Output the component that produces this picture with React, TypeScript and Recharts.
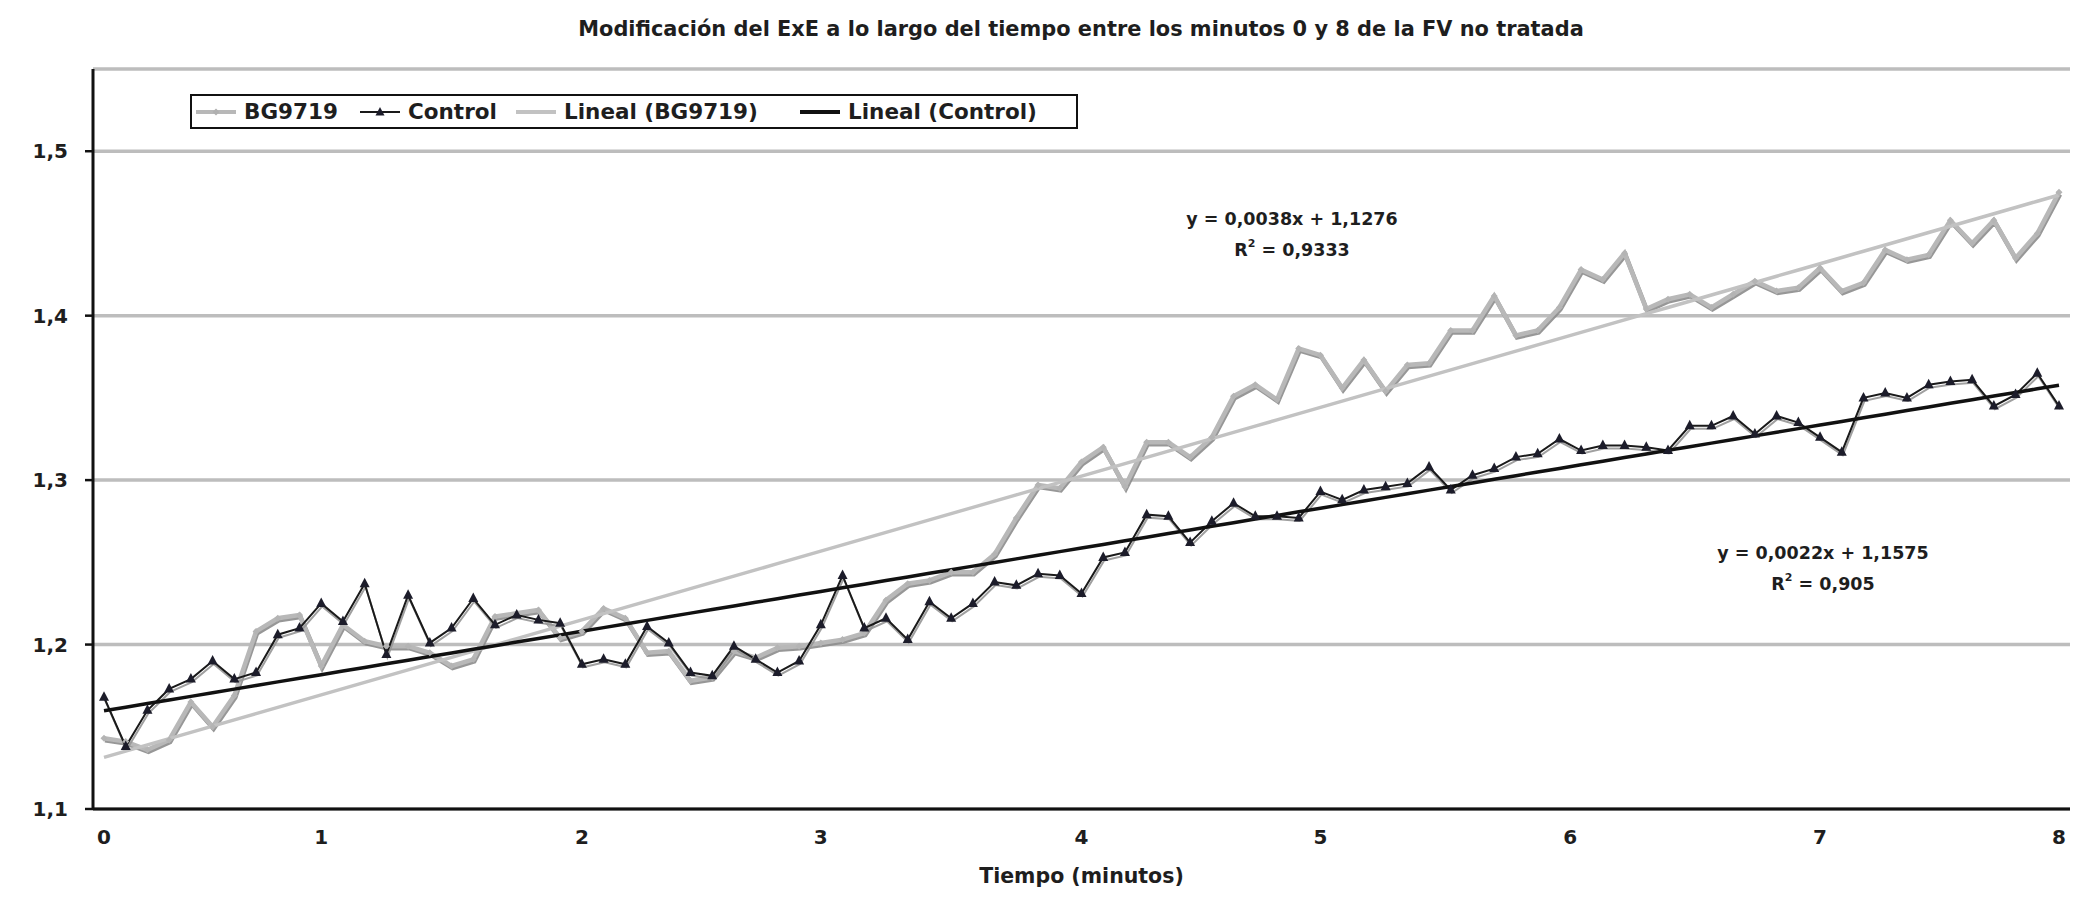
import React from 'react';
import { LineChart, Line, XAxis, YAxis, CartesianGrid, Label } from 'recharts';

// 91 samples
const BG9719 = [
  1.143, 1.141, 1.136, 1.142, 1.165, 1.150, 1.169, 1.208, 1.216, 1.218,
  1.187, 1.212, 1.202, 1.199, 1.199, 1.195, 1.187, 1.191, 1.217, 1.219,
  1.221, 1.204, 1.208, 1.222, 1.216, 1.195, 1.196, 1.178, 1.180, 1.196,
  1.192, 1.198, 1.199, 1.201, 1.203, 1.207, 1.227, 1.237, 1.239, 1.244,
  1.244, 1.255, 1.277, 1.297, 1.295, 1.311, 1.320, 1.296, 1.323, 1.323,
  1.314, 1.326, 1.351, 1.358, 1.349, 1.380, 1.376, 1.356, 1.373, 1.354,
  1.370, 1.371, 1.391, 1.391, 1.412, 1.388, 1.391, 1.405, 1.428, 1.422,
  1.438, 1.404, 1.410, 1.413, 1.405, 1.413, 1.421, 1.415, 1.417, 1.429,
  1.415, 1.420, 1.440, 1.434, 1.437, 1.458, 1.444, 1.458, 1.435, 1.450,
  1.475,
];

const CONTROL = [
  1.168, 1.138, 1.160, 1.173, 1.179, 1.190, 1.179, 1.183, 1.206, 1.210,
  1.225, 1.214, 1.237, 1.194, 1.230, 1.201, 1.210, 1.228, 1.212, 1.218,
  1.215, 1.213, 1.188, 1.191, 1.188, 1.211, 1.201, 1.183, 1.181, 1.199,
  1.191, 1.183, 1.190, 1.212, 1.242, 1.210, 1.216, 1.203, 1.226, 1.216,
  1.225, 1.238, 1.236, 1.243, 1.242, 1.231, 1.253, 1.256, 1.279, 1.278,
  1.262, 1.275, 1.286, 1.278, 1.278, 1.277, 1.293, 1.288, 1.294, 1.296,
  1.298, 1.308, 1.294, 1.303, 1.307, 1.314, 1.316, 1.325, 1.318, 1.321,
  1.321, 1.320, 1.318, 1.333, 1.333, 1.339, 1.328, 1.339, 1.335, 1.326,
  1.317, 1.350, 1.353, 1.350, 1.358, 1.360, 1.361, 1.345, 1.352, 1.365,
  1.345,
];

// sample position under which each whole minute is labelled
const MINUTE_SAMPLES = [0, 10, 22, 33, 45, 56, 67.5, 79, 90];
const MINUTE_LABELS = ['0', '1', '2', '3', '4', '5', '6', '7', '8'];
const Y_TICKS = [1.1, 1.2, 1.3, 1.4, 1.5];

// trendline equations as printed on the chart (x = sample number, from 1)
const TREND_BG = { slope: 0.0038, intercept: 1.1276, label: 'y = 0,0038x + 1,1276', r2: '0,9333' };
const TREND_CTRL = { slope: 0.0022, intercept: 1.1575, label: 'y = 0,0022x + 1,1575', r2: '0,905' };

const FONT = '"DejaVu Sans", Verdana, sans-serif';
const TEXT = '#1e1e1e';

const data = BG9719.map((bg, i) => ({
  i,
  bg,
  ctrl: CONTROL[i],
  trendBg: TREND_BG.slope * (i + 1) + TREND_BG.intercept,
  trendCtrl: TREND_CTRL.slope * (i + 1) + TREND_CTRL.intercept,
}));

const comma = (v: number) => String(v).replace('.', ',');
const minuteLabel = (v: number) => MINUTE_LABELS[MINUTE_SAMPLES.indexOf(v)] ?? '';

const Triangle = (props: any) => {
  const { cx, cy, index } = props;
  if (cx == null || cy == null) return null;
  return (
    <polygon
      key={`tri-${index}`}
      points={`${cx},${cy - 6} ${cx - 5},${cy + 3.5} ${cx + 5},${cy + 3.5}`}
      fill="#1c1c2a"
    />
  );
};

const Diamond = (props: any) => {
  const { cx, cy, index } = props;
  if (cx == null || cy == null) return null;
  return (
    <polygon
      key={`dia-${index}`}
      points={`${cx},${cy - 3.5} ${cx + 3.5},${cy} ${cx},${cy + 3.5} ${cx - 3.5},${cy}`}
      fill="#b4b4b4"
    />
  );
};

const legendItems = [
  { name: 'BG9719', color: '#b8b8b8', width: 4, marker: 'diamond', left: 196 },
  { name: 'Control', color: '#1a1a1a', width: 2, marker: 'triangle', left: 360 },
  { name: 'Lineal (BG9719)', color: '#c2c2c2', width: 4, marker: null, left: 516 },
  { name: 'Lineal (Control)', color: '#111111', width: 4, marker: null, left: 800 },
];

export default function App() {
  return (
    <div style={{ position: 'absolute', left: 0, top: 0, width: 2100, height: 908, background: '#fff', fontFamily: FONT }}>
      <style>{`
        .bg-series { filter: drop-shadow(1px 2px 0px rgba(140,140,140,0.9)); }
        .ctrl-series { filter: drop-shadow(1px 3px 0px rgba(150,150,150,0.9)); }
      `}</style>

      <div
        style={{
          position: 'absolute', left: 0, width: 2162, top: 17, textAlign: 'center',
          fontSize: 20.9, fontWeight: 700, color: TEXT,
        }}
      >
        Modificación del ExE a lo largo del tiempo entre los minutos 0 y 8 de la FV no tratada
      </div>

      <LineChart width={2100} height={908} data={data} margin={{ top: 69, right: 30, bottom: 8, left: 0 }}>
        <CartesianGrid vertical={false} stroke="#bdbdbd" strokeWidth={3.5} />
        <XAxis
          dataKey="i"
          type="number"
          domain={[0, 90]}
          ticks={MINUTE_SAMPLES}
          tickFormatter={minuteLabel}
          padding={{ left: 11, right: 11 }}
          height={91}
          axisLine={{ stroke: '#111', strokeWidth: 3 }}
          tickLine={false}
          tickSize={8}
          tickMargin={13}
          tick={{ fill: TEXT, fontSize: 20, fontWeight: 700, fontFamily: FONT }}
        >
          <Label
            value="Tiempo (minutos)"
            position="insideBottom"
            offset={17}
            style={{ fill: TEXT, fontSize: 20.5, fontWeight: 700, fontFamily: FONT }}
          />
        </XAxis>
        <YAxis
          type="number"
          domain={[1.1, 1.55]}
          ticks={Y_TICKS}
          width={93}
          allowDataOverflow
          axisLine={{ stroke: '#111', strokeWidth: 3 }}
          tickLine={{ stroke: '#111', strokeWidth: 2.5 }}
          tickSize={8}
          tickMargin={17}
          tickFormatter={comma}
          tick={{ fill: TEXT, fontSize: 20, fontWeight: 700, fontFamily: FONT }}
        />
        <Line
          className="bg-series"
          type="linear"
          dataKey="bg"
          stroke="#b8b8b8"
          strokeWidth={4.5}
          dot={<Diamond />}
          isAnimationActive={false}
        />
        <Line
          className="ctrl-series"
          type="linear"
          dataKey="ctrl"
          stroke="#1a1a1a"
          strokeWidth={2}
          dot={<Triangle />}
          isAnimationActive={false}
        />
        <Line type="linear" dataKey="trendBg" stroke="#c2c2c2" strokeWidth={3.5} dot={false} isAnimationActive={false} />
        <Line type="linear" dataKey="trendCtrl" stroke="#111" strokeWidth={3.5} dot={false} isAnimationActive={false} />
      </LineChart>

      <div
        style={{
          position: 'absolute', left: 190, top: 94, width: 884, height: 31,
          border: '2px solid #111', background: '#fff',
        }}
      >
        {legendItems.map((it) => (
          <div
            key={it.name}
            style={{ position: 'absolute', left: it.left - 192, top: 0, height: 31, display: 'flex', alignItems: 'center' }}
          >
            <svg width={40} height={20} style={{ marginRight: 8 }}>
              <line x1={0} y1={10} x2={40} y2={10} stroke={it.color} strokeWidth={it.width} />
              {it.marker === 'triangle' && <polygon points="20,5 15.5,13.5 24.5,13.5" fill="#1c1c2a" />}
              {it.marker === 'diamond' && <polygon points="20,6.5 23.5,10 20,13.5 16.5,10" fill="#b0b0b0" />}
            </svg>
            <span style={{ fontSize: 21.5, fontWeight: 700, color: TEXT, whiteSpace: 'nowrap' }}>{it.name}</span>
          </div>
        ))}
      </div>

      {[
        { tr: TREND_BG, cx: 1292, top: 204 },
        { tr: TREND_CTRL, cx: 1823, top: 538 },
      ].map(({ tr, cx, top }) => (
        <div
          key={tr.label}
          style={{
            position: 'absolute', left: cx - 200, width: 400, top, textAlign: 'center',
            fontSize: 17.5, fontWeight: 700, color: TEXT, lineHeight: '31px',
          }}
        >
          <div>{tr.label}</div>
          <div>
            R<sup style={{ fontSize: 11, lineHeight: 0, position: 'relative', top: -2 }}>2</sup> = {tr.r2}
          </div>
        </div>
      ))}
    </div>
  );
}
